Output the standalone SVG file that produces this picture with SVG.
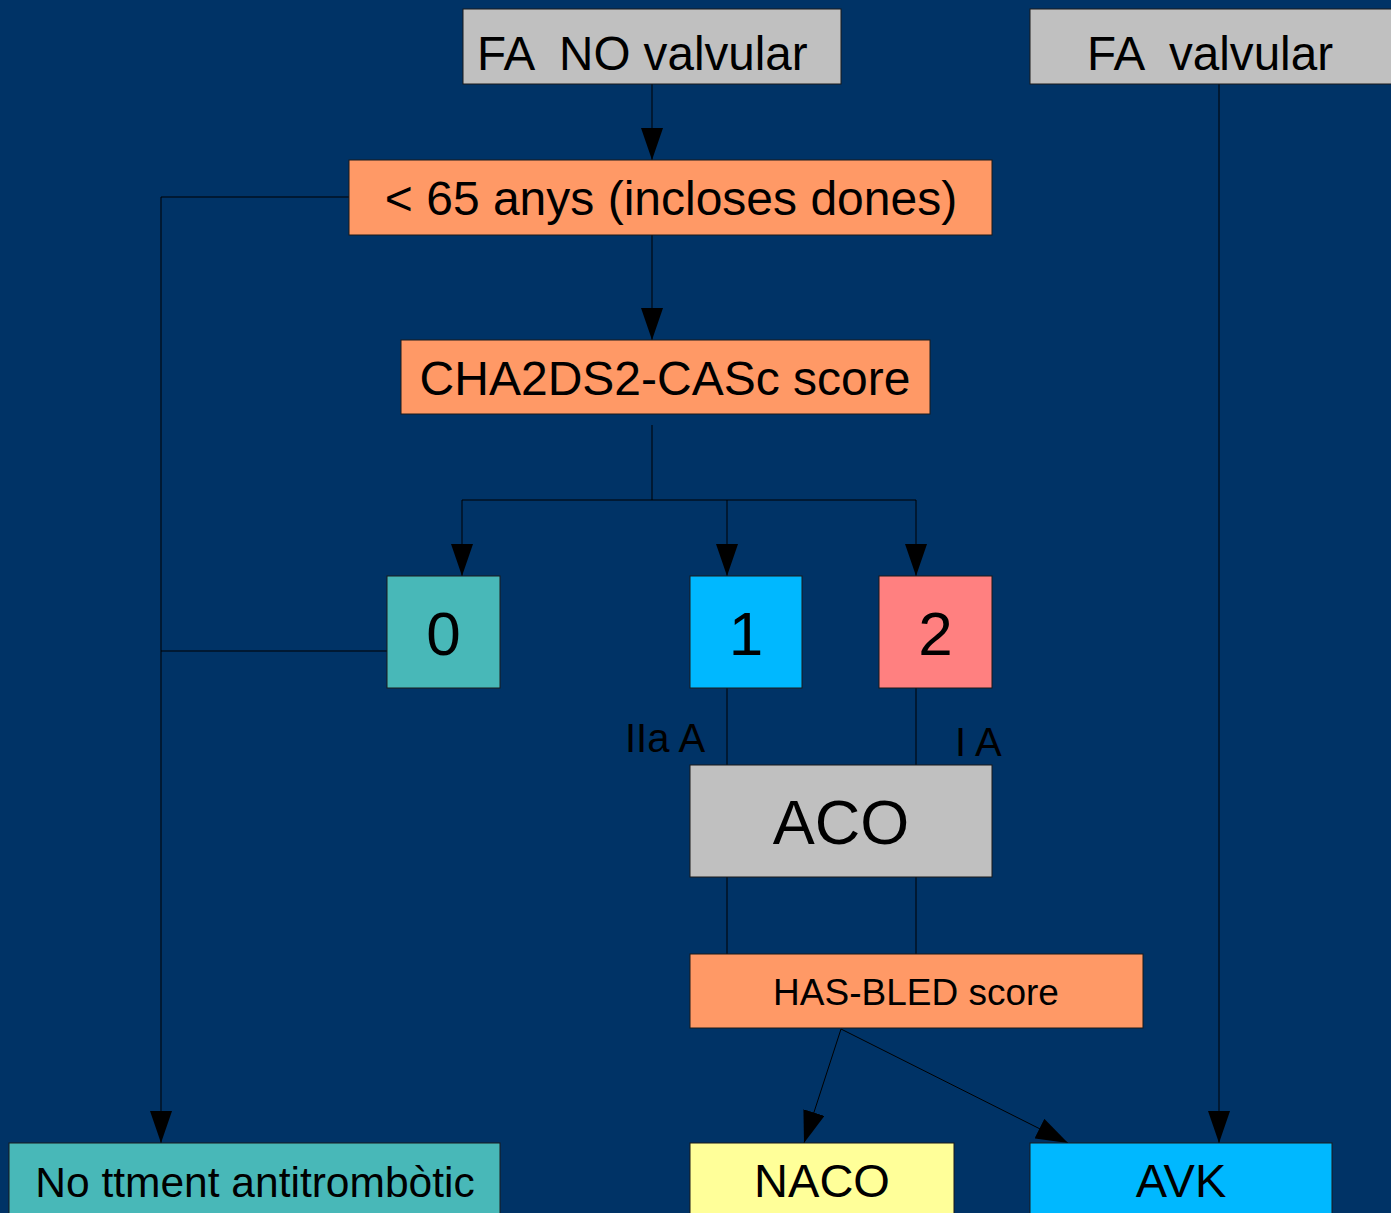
<svg xmlns="http://www.w3.org/2000/svg" width="1391" height="1213" viewBox="0 0 1391 1213">
<defs>
<marker id="ah" markerUnits="userSpaceOnUse" markerWidth="32" markerHeight="22" refX="32" refY="11" orient="auto">
<path d="M0,0 L32,11 L0,22 Z" fill="#000"/>
</marker>
<style>
.box{stroke:#1a1a1a;stroke-width:1}
.t{font-family:"Liberation Sans",Arial,sans-serif;fill:#000}
.c{fill:none;stroke:#000;stroke-width:1}
.a{fill:none;stroke:#000;stroke-width:1;marker-end:url(#ah)}
</style>
</defs>
<rect width="1391" height="1213" fill="#003366"/>
<g id="connectors">
<path class="a" d="M652,84 L652,160"/>
<path class="a" d="M652,235 L652,340"/>
<path class="c" d="M652,425 L652,500 M462,500 L916,500"/>
<path class="a" d="M462,500 L462,576"/>
<path class="a" d="M727,500 L727,576"/>
<path class="a" d="M916,500 L916,576"/>
<path class="a" d="M349,197 L161,197 L161,1143"/>
<path class="c" d="M387,651 L161,651"/>
<path class="c" d="M727,688 L727,765 M916,688 L916,765"/>
<path class="c" d="M727,877 L727,954 M916,877 L916,954"/>
<path class="a" d="M841,1029 L804,1143"/>
<path class="a" d="M841,1029 L1068,1143"/>
<path class="a" d="M1219,84 L1219,1143"/>
</g>
<g id="label-iia">
<text class="t" x="625" y="752" font-size="40">IIa A</text>
</g>
<g id="label-ia">
<text class="t" x="955" y="756" font-size="40">I A</text>
</g>
<g id="fa-no-valvular">
<rect class="box" x="463" y="9" width="378" height="75" fill="#c0c0c0"/>
<text class="t" x="477" y="70" font-size="47.6" xml:space="preserve">FA  NO valvular</text>
</g>
<g id="fa-valvular">
<rect class="box" x="1030" y="9" width="370" height="75" fill="#c0c0c0"/>
<text class="t" x="1087" y="70" font-size="47.6" xml:space="preserve">FA  valvular</text>
</g>
<g id="menys65">
<rect class="box" x="349" y="160" width="643" height="75" fill="#ff9966"/>
<text class="t" x="671" y="215" font-size="48" text-anchor="middle">&lt; 65 anys (incloses dones)</text>
</g>
<g id="cha2ds2">
<rect class="box" x="401" y="340" width="529" height="74" fill="#ff9966"/>
<text class="t" x="665" y="395" font-size="48" text-anchor="middle">CHA2DS2-CASc score</text>
</g>
<g id="score0">
<rect class="box" x="387" y="576" width="113" height="112" fill="#48b8b8"/>
<text class="t" x="443.5" y="655" font-size="62" text-anchor="middle">0</text>
</g>
<g id="score1">
<rect class="box" x="690" y="576" width="112" height="112" fill="#00b8ff"/>
<text class="t" x="746" y="655" font-size="62" text-anchor="middle">1</text>
</g>
<g id="score2">
<rect class="box" x="879" y="576" width="113" height="112" fill="#ff8080"/>
<text class="t" x="935.5" y="655" font-size="62" text-anchor="middle">2</text>
</g>
<g id="aco">
<rect class="box" x="690" y="765" width="302" height="112" fill="#c0c0c0"/>
<text class="t" x="841" y="844" font-size="63" text-anchor="middle">ACO</text>
</g>
<g id="hasbled">
<rect class="box" x="690" y="954" width="453" height="74" fill="#ff9966"/>
<text class="t" x="916" y="1005" font-size="37" text-anchor="middle">HAS-BLED score</text>
</g>
<g id="no-ttment">
<rect class="box" x="9" y="1143" width="491" height="80" fill="#48b8b8"/>
<text class="t" x="255" y="1197" font-size="42.5" text-anchor="middle">No ttment antitrombòtic</text>
</g>
<g id="naco">
<rect class="box" x="690" y="1143" width="264" height="80" fill="#ffff99"/>
<text class="t" x="822" y="1197" font-size="47" text-anchor="middle">NACO</text>
</g>
<g id="avk">
<rect class="box" x="1030" y="1143" width="302" height="80" fill="#00b8ff"/>
<text class="t" x="1181" y="1197" font-size="47" text-anchor="middle">AVK</text>
</g>
</svg>
